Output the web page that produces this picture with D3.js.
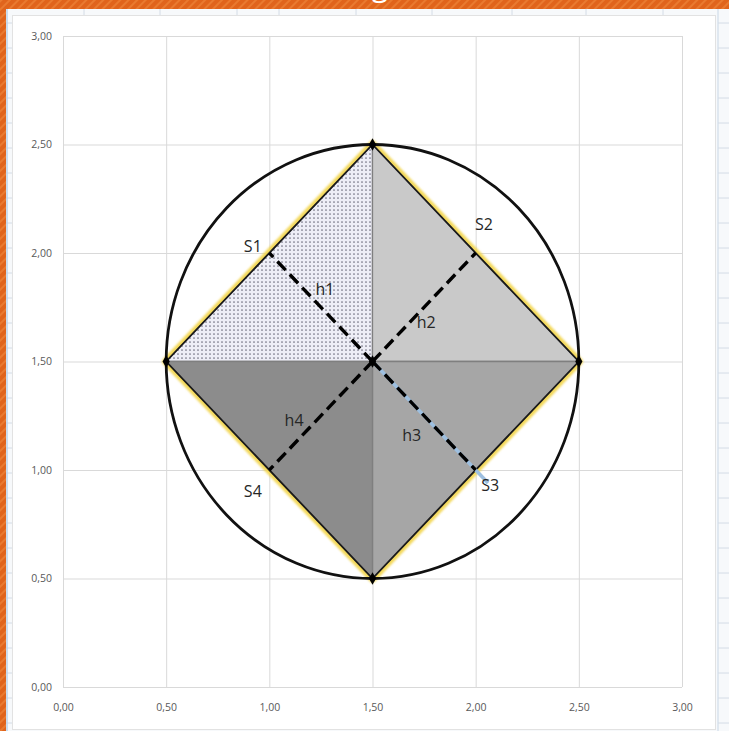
<!DOCTYPE html>
<html>
<head>
<meta charset="utf-8">
<script src="https://cdn.jsdelivr.net/npm/d3@7"></script>
<style>
  body { margin: 0; background: #fff; }
  text { font-family: "Open Sans", "Liberation Sans", sans-serif; }
</style>
</head>
<body>
<div id="chart"></div>
<script>
// Data
const xTicks = [0, 0.5, 1, 1.5, 2, 2.5, 3];
const yTicks = [0, 0.5, 1, 1.5, 2, 2.5, 3];
const circleCenter = [1.5, 1.5];
const circleRadius = 1;
const vertices = [[1.5, 2.5], [2.5, 1.5], [1.5, 0.5], [0.5, 1.5]];
const heightEnds = [[1, 2], [2, 2], [2, 1], [1, 1]];
const triangleFills = ["url(#dots)", "#c9c9c9", "#a6a6a6", "#8c8c8c"];
// triangles: [vertex a, vertex b] joined with the centre
const triangles = [[3, 0], [0, 1], [1, 2], [2, 3]];
const blueLine = [[1.5, 1.5], [2.06, 0.94]];
const sideLabels = ["S1", "S2", "S3", "S4"];
const sidePos = [[0.92, 2.03], [2.04, 2.13], [2.07, 0.93], [0.92, 0.90]];
const hLabels = ["h1", "h2", "h3", "h4"];
const hPos = [[1.27, 1.83], [1.76, 1.68], [1.69, 1.16], [1.12, 1.23]];

const W = 729, H = 731;
const margin = { top: 36, right: 45, bottom: 40, left: 63 };

const svg = d3.select("#chart")
  .append("svg")
  .attr("width", W)
  .attr("height", H);

const defs = svg.append("defs");
const pat = defs.append("pattern")
  .attr("id", "dots")
  .attr("width", 4).attr("height", 4)
  .attr("patternUnits", "userSpaceOnUse");
pat.append("rect").attr("width", 4).attr("height", 4).attr("fill", "#eeeef7");
pat.append("circle").attr("cx", 2).attr("cy", 2).attr("r", 0.85).attr("fill", "#6f6f80");

const stripes = defs.append("pattern")
  .attr("id", "orange")
  .attr("width", 6).attr("height", 6)
  .attr("patternUnits", "userSpaceOnUse")
  .attr("patternTransform", "rotate(45)");
stripes.append("rect").attr("width", 6).attr("height", 6).attr("fill", "#e0641c");
stripes.append("rect").attr("width", 2).attr("height", 6).attr("fill", "#e97a30");

const glow = defs.append("filter").attr("id", "glow")
  .attr("x", "-10%").attr("y", "-10%").attr("width", "120%").attr("height", "120%");
glow.append("feGaussianBlur").attr("stdDeviation", 1.2);

// Spreadsheet background
svg.append("rect").attr("width", W).attr("height", H).attr("fill", "#f7f9fb");
[84, 160, 237, 279, 356, 432, 512, 586, 663].forEach(cx => {
  svg.append("line").attr("x1", cx).attr("x2", cx).attr("y1", 9).attr("y2", 16)
    .attr("stroke", "#d4dce6");
});
svg.append("line").attr("x1", 718).attr("x2", 718).attr("y1", 9).attr("y2", H)
  .attr("stroke", "#c9d7e6");
d3.range(23, H, 25).forEach(ry => {
  svg.append("line").attr("x1", 718).attr("x2", W).attr("y1", ry).attr("y2", ry)
    .attr("stroke", "#d4dce6");
  svg.append("line").attr("x1", 6).attr("x2", 12).attr("y1", ry).attr("y2", ry)
    .attr("stroke", "#d4dce6");
});
svg.append("line").attr("x1", 7).attr("x2", 7).attr("y1", 9).attr("y2", H)
  .attr("stroke", "#bcd3ea").attr("stroke-width", 1.5);

// Chart area
svg.append("rect")
  .attr("x", 12.5).attr("y", 15.5)
  .attr("width", 703).attr("height", 714)
  .attr("fill", "#fff")
  .attr("stroke", "#e2e2e2");

// Orange frame
svg.append("rect").attr("x", 0).attr("y", 0).attr("width", W).attr("height", 9).attr("fill", "url(#orange)");
svg.append("rect").attr("x", 0).attr("y", 0).attr("width", 6).attr("height", H).attr("fill", "url(#orange)");
svg.append("text").attr("x", 380).attr("y", -4)
  .attr("text-anchor", "middle").attr("font-size", 30).attr("fill", "#fff").text("g");

const width = W - margin.left - margin.right;
const height = H - margin.top - margin.bottom;

const x = d3.scaleLinear().domain([0, 3]).range([margin.left, margin.left + width - 2]);
const y = d3.scaleLinear().domain([0, 3]).range([margin.top + height - 4, margin.top]);

// Grid
const fmt = d => d.toFixed(2).replace(".", ",");
svg.append("g")
  .attr("transform", `translate(0,${y(0)})`)
  .call(d3.axisBottom(x).tickValues(xTicks).tickSize(y(3) - y(0)).tickFormat(""))
  .call(g => g.select(".domain").remove())
  .call(g => g.selectAll("line").attr("stroke", "#d9d9d9"));
svg.append("g")
  .attr("transform", `translate(${x(0)},0)`)
  .call(d3.axisLeft(y).tickValues(yTicks).tickSize(x(0) - x(3)).tickFormat(""))
  .call(g => g.select(".domain").remove())
  .call(g => g.selectAll("line").attr("stroke", "#d9d9d9"));

// Axis labels
svg.append("g")
  .attr("transform", `translate(0,${y(0)})`)
  .call(d3.axisBottom(x).tickValues(xTicks).tickSize(0).tickPadding(17).tickFormat(fmt))
  .call(g => g.select(".domain").remove())
  .call(g => g.selectAll("text").attr("fill", "#595959").attr("font-size", 10.5));
svg.append("g")
  .attr("transform", `translate(${x(0)},0)`)
  .call(d3.axisLeft(y).tickValues(yTicks).tickSize(0).tickPadding(11).tickFormat(fmt))
  .call(g => g.select(".domain").remove())
  .call(g => g.selectAll("text").attr("fill", "#595959").attr("font-size", 10.5));

const line = d3.line().x(d => x(d[0])).y(d => y(d[1]));

// Yellow glow round the square (inner half covered by triangles)
svg.append("path")
  .attr("d", line(vertices) + "Z")
  .attr("fill", "none")
  .attr("stroke", "#f2d44a")
  .attr("stroke-width", 8)
  .attr("stroke-linejoin", "round")
  .attr("filter", "url(#glow)")
  .attr("opacity", 0.9);

// Triangles
svg.selectAll(".tri")
  .data(triangles)
  .enter().append("path")
  .attr("class", "tri")
  .attr("d", (t, i) => line([circleCenter, vertices[t[0]], vertices[t[1]]]) + "Z")
  .attr("fill", (t, i) => triangleFills[i])
  .attr("stroke", "#7f7f7f")
  .attr("stroke-width", 1.3);

// Square edges
svg.append("path")
  .attr("d", line(vertices) + "Z")
  .attr("fill", "none")
  .attr("stroke", "#1a1a1a")
  .attr("stroke-width", 1.8);

// Circumscribed circle
svg.append("ellipse")
  .attr("cx", x(circleCenter[0]))
  .attr("cy", y(circleCenter[1]))
  .attr("rx", x(circleCenter[0] + circleRadius) - x(circleCenter[0]))
  .attr("ry", y(circleCenter[1] - circleRadius) - y(circleCenter[1]))
  .attr("fill", "none")
  .attr("stroke", "#111")
  .attr("stroke-width", 2.8);

// Blue line under h3
svg.append("path")
  .attr("d", line(blueLine))
  .attr("stroke", "#9dbfe0")
  .attr("stroke-width", 3.5)
  .attr("fill", "none");

// Heights (dashed)
svg.selectAll(".h")
  .data(heightEnds)
  .enter().append("path")
  .attr("class", "h")
  .attr("d", d => line([circleCenter, d]))
  .attr("stroke", "#000")
  .attr("stroke-width", 3.4)
  .attr("stroke-dasharray", "12,6")
  .attr("fill", "none");

// Markers
svg.selectAll(".mk")
  .data(vertices.concat([circleCenter]))
  .enter().append("path")
  .attr("class", "mk")
  .attr("transform", d => `translate(${x(d[0])},${y(d[1])})`)
  .attr("d", d3.symbol(d3.symbolDiamond, 45))
  .attr("fill", "#000");

// Labels
svg.selectAll(".sl")
  .data(sideLabels)
  .enter().append("text")
  .attr("x", (d, i) => x(sidePos[i][0]))
  .attr("y", (d, i) => y(sidePos[i][1]))
  .attr("dy", "0.35em")
  .attr("text-anchor", "middle")
  .attr("font-size", 16)
  .attr("fill", "#262626")
  .text(d => d);
svg.selectAll(".hl")
  .data(hLabels)
  .enter().append("text")
  .attr("x", (d, i) => x(hPos[i][0]))
  .attr("y", (d, i) => y(hPos[i][1]))
  .attr("dy", "0.35em")
  .attr("text-anchor", "middle")
  .attr("font-size", 16)
  .attr("fill", "#262626")
  .text(d => d);
</script>
</body>
</html>
